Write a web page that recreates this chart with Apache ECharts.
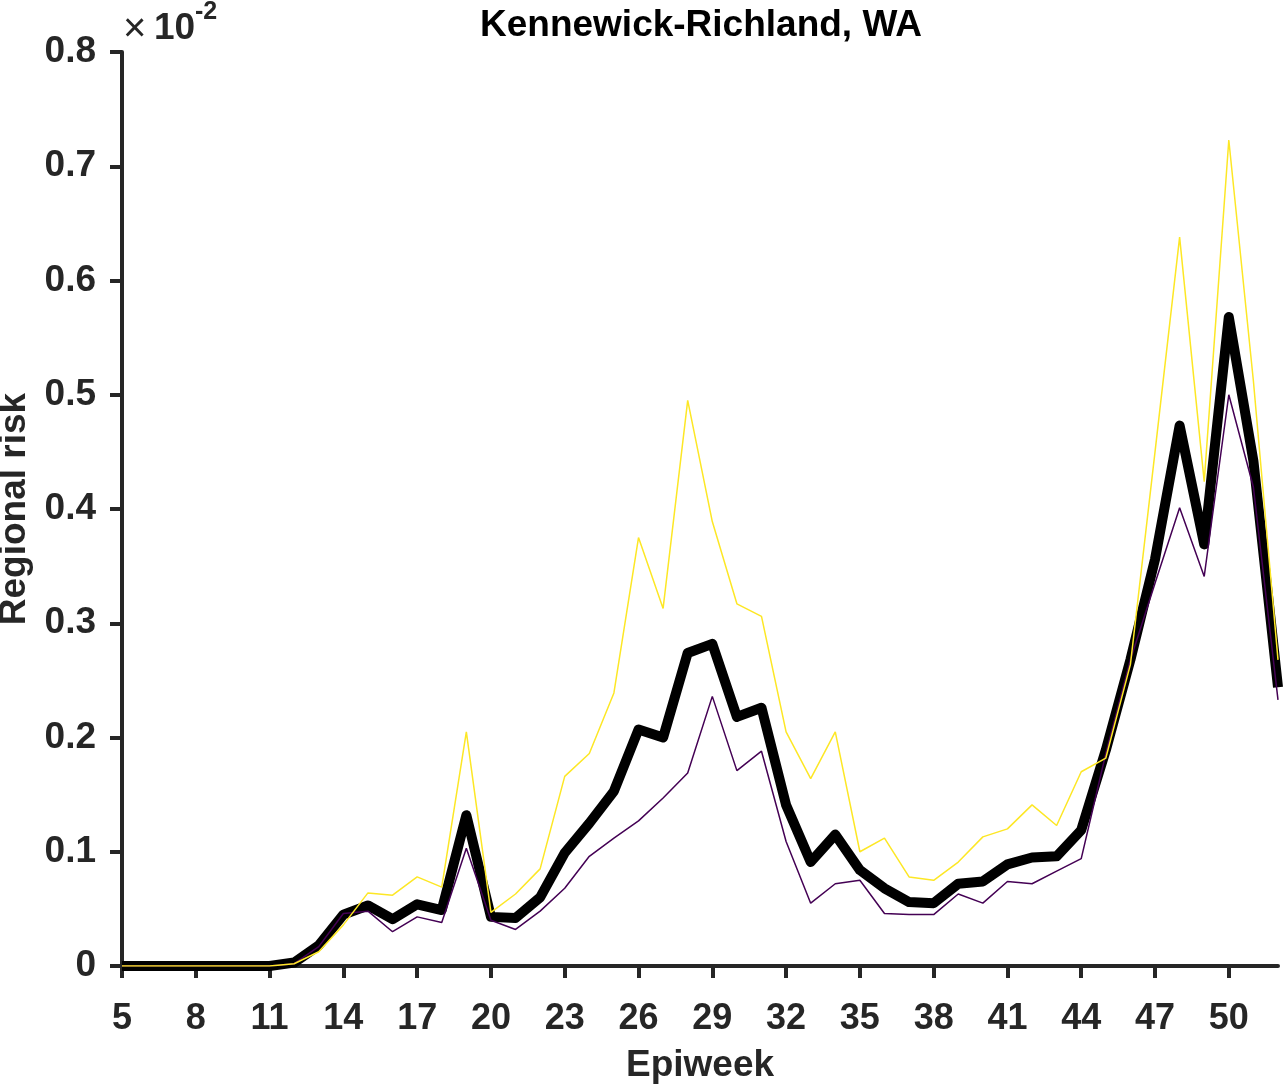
<!DOCTYPE html>
<html>
<head>
<meta charset="utf-8">
<script src="https://cdn.jsdelivr.net/npm/echarts@6/dist/echarts.min.js"></script>
<style>
    html, body { margin: 0; padding: 0; background: #fff; }
    #main { width: 1288px; height: 1086px; }
</style>
</head>
<body>
<div id="main"></div>
<script>
// epiweeks on the x axis
var weeks = [5, 6, 7, 8, 9, 10, 11, 12, 13, 14, 15, 16, 17, 18, 19, 20, 21, 22, 23, 24,
    25, 26, 27, 28, 29, 30, 31, 32, 33, 34, 35, 36, 37, 38, 39, 40, 41, 42, 43, 44,
    45, 46, 47, 48, 49, 50, 51, 52];

// regional risk, in units of 1e-2
var risk_mean = [0, 0, 0, 0, 0, 0, 0, 0.003, 0.018, 0.045, 0.053, 0.041, 0.054, 0.049, 0.132, 0.043,
    0.042, 0.060, 0.099, 0.125, 0.153, 0.207, 0.200, 0.274, 0.282, 0.218, 0.226, 0.141, 0.091, 0.115,
    0.084, 0.068, 0.056, 0.055, 0.072, 0.074, 0.089, 0.095, 0.096, 0.119, 0.189, 0.268, 0.356, 0.473,
    0.369, 0.568, 0.442, 0.244];

var risk_upper = [0, 0, 0, 0, 0, 0, 0, 0.002, 0.0125, 0.036, 0.064, 0.062, 0.078, 0.069, 0.205, 0.047,
    0.063, 0.085, 0.166, 0.186, 0.239, 0.375, 0.313, 0.495, 0.389, 0.317, 0.306, 0.205, 0.164, 0.205,
    0.100, 0.112, 0.078, 0.075, 0.091, 0.113, 0.120, 0.141, 0.123, 0.170, 0.182, 0.264, 0.450, 0.638,
    0.424, 0.723, 0.512, 0.268];

var risk_lower = [0, 0, 0, 0, 0, 0, 0, 0.002, 0.017, 0.046, 0.048, 0.030, 0.043, 0.038, 0.103, 0.040,
    0.032, 0.048, 0.068, 0.096, 0.112, 0.127, 0.147, 0.169, 0.236, 0.171, 0.188, 0.109, 0.055, 0.072,
    0.075, 0.046, 0.045, 0.045, 0.063, 0.055, 0.074, 0.072, 0.083, 0.094, 0.186, 0.268, 0.335, 0.401,
    0.341, 0.500, 0.419, 0.233];

var y_ticks = [0, 0.1, 0.2, 0.3, 0.4, 0.5, 0.6, 0.7, 0.8];

var FONT = '"Liberation Sans", Arial, Helvetica, sans-serif';
var AXIS_COLOR = '#262626';

var myChart = echarts.init(document.getElementById('main'));

var option = {
    backgroundColor: '#fff',
    animation: false,
    title: {
        text: 'Kennewick-Richland, WA',
        left: 696,
        top: 2,
        textAlign: 'center',
        textStyle: {
            fontFamily: FONT,
            fontWeight: 'bold',
            fontSize: 37,
            color: '#000'
        }
    },
    grid: {
        left: 122,
        right: 10,
        top: 52,
        bottom: 120,
        outerBoundsMode: 'none',
        containLabel: false
    },
    xAxis: {
        type: 'category',
        data: weeks,
        boundaryGap: false,
        name: 'Epiweek',
        nameLocation: 'middle',
        nameGap: 81,
        nameTextStyle: {
            fontFamily: FONT,
            fontWeight: 'bold',
            fontSize: 37,
            color: AXIS_COLOR
        },
        axisLine: { lineStyle: { color: AXIS_COLOR, width: 4 } },
        axisTick: {
            interval: 2,
            length: 12,
            lineStyle: { color: AXIS_COLOR, width: 4 }
        },
        axisLabel: {
            interval: 2,
            margin: 35,
            fontFamily: FONT,
            fontWeight: 'bold',
            fontSize: 36,
            color: AXIS_COLOR
        },
        splitLine: { show: false }
    },
    yAxis: {
        type: 'value',
        min: y_ticks[0],
        max: y_ticks[y_ticks.length - 1],
        interval: 0.1,
        name: 'Regional risk',
        nameLocation: 'middle',
        nameGap: 88,
        nameTextStyle: {
            fontFamily: FONT,
            fontWeight: 'bold',
            fontSize: 37,
            color: AXIS_COLOR
        },
        axisLine: { show: true, lineStyle: { color: AXIS_COLOR, width: 4 } },
        axisTick: {
            show: true,
            length: 12,
            lineStyle: { color: AXIS_COLOR, width: 4 }
        },
        axisLabel: {
            margin: 26,
            fontFamily: FONT,
            fontWeight: 'bold',
            fontSize: 37,
            color: AXIS_COLOR,
            formatter: function(v){
                return y_ticks.indexOf(Math.round(v * 10) / 10) >= 0 ? String(Math.round(v * 10) / 10) : '';
            }
        },
        splitLine: { show: false }
    },
    graphic: [
        {
            type: 'text',
            left: 123,
            top: 10,
            style: { text: '\u00d7', font: 'normal 40px ' + FONT, fill: AXIS_COLOR }
        },
        {
            type: 'text',
            left: 154,
            top: 10,
            style: { text: '10', font: 'bold 37px ' + FONT, fill: AXIS_COLOR }
        },
        {
            type: 'text',
            left: 195,
            top: 0,
            style: { text: '-2', font: 'bold 25px ' + FONT, fill: AXIS_COLOR }
        }
    ],
    series: [
        {
            name: 'mean',
            type: 'line',
            data: risk_mean,
            symbol: 'none',
            z: 2,
            lineStyle: { color: '#000', width: 10, join: 'round', cap: 'butt' }
        },
        {
            name: 'lower',
            type: 'line',
            data: risk_lower,
            symbol: 'none',
            z: 3,
            lineStyle: { color: '#440154', width: 1.5 }
        },
        {
            name: 'upper',
            type: 'line',
            data: risk_upper,
            symbol: 'none',
            z: 4,
            lineStyle: { color: '#FDE725', width: 1.5 }
        }
    ]
};

myChart.setOption(option);
</script>
</body>
</html>
